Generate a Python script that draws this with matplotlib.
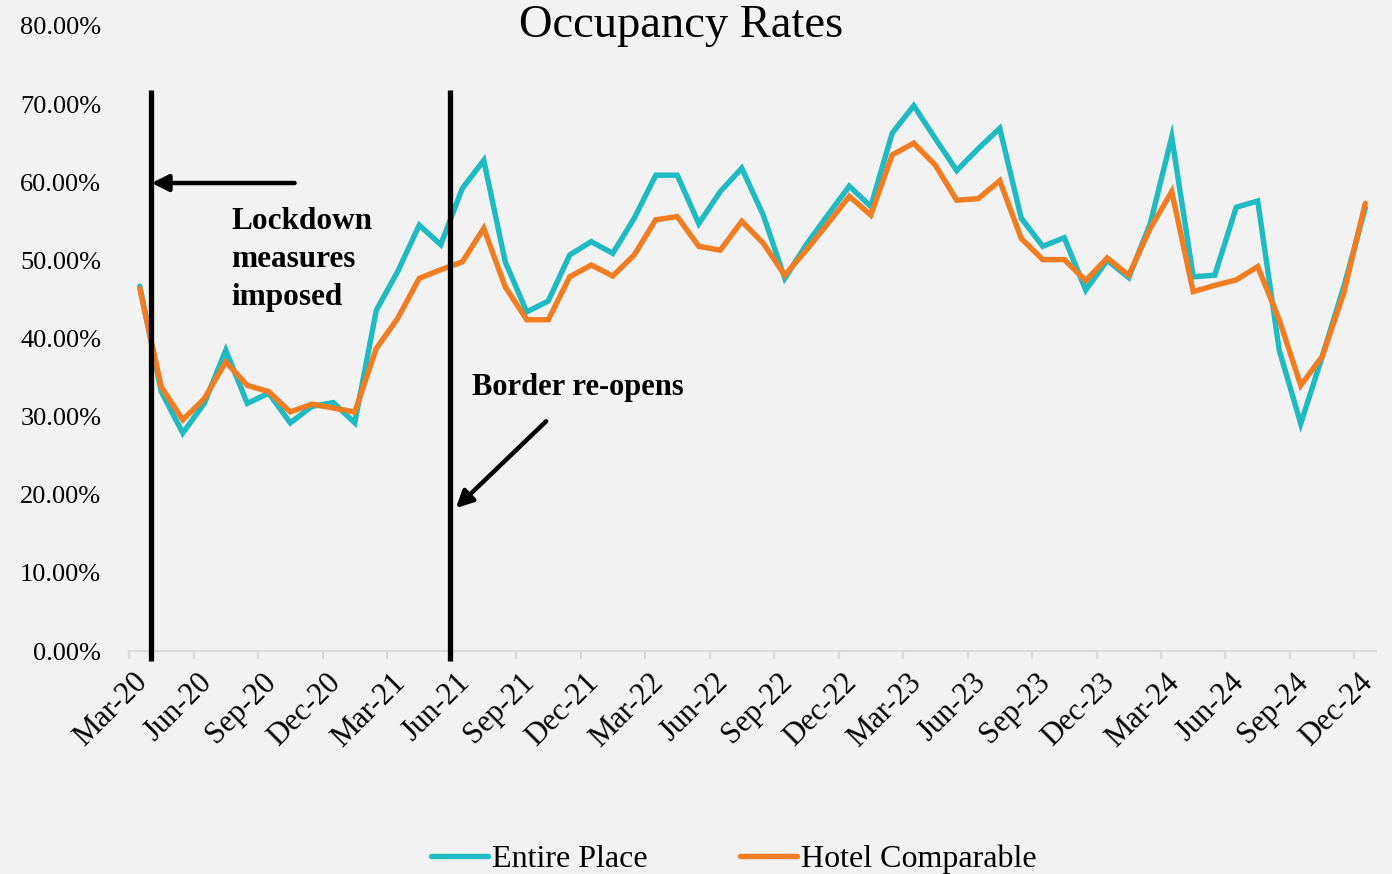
import matplotlib
matplotlib.use("Agg")
import matplotlib.pyplot as plt
import matplotlib.transforms as mtransforms
import numpy as np

# ---- data ----
tick_labels = ['Mar-20', 'Jun-20', 'Sep-20', 'Dec-20',
               'Mar-21', 'Jun-21', 'Sep-21', 'Dec-21',
               'Mar-22', 'Jun-22', 'Sep-22', 'Dec-22',
               'Mar-23', 'Jun-23', 'Sep-23', 'Dec-23',
               'Mar-24', 'Jun-24', 'Sep-24', 'Dec-24']

entire_place = [46.7, 33.2, 27.9, 31.7, 38.5, 31.7, 33.0, 29.2, 31.3, 31.8,
                29.2, 43.6, 48.6, 54.5, 52.0, 59.2, 62.8, 49.8, 43.4, 44.8,
                50.7, 52.4, 50.9, 55.4, 60.9, 60.9, 54.7, 58.8, 61.8, 55.8,
                47.7, 52.0, 55.8, 59.5, 56.9, 66.3, 69.8, 65.6, 61.5, 64.3,
                66.9, 55.4, 51.8, 52.9, 46.2, 50.0, 47.8, 54.7, 65.8, 47.9,
                48.1, 56.8, 57.6, 38.5, 29.1, 37.7, 46.6, 56.7]

hotel_comparable = [46.4, 33.8, 29.6, 32.3, 37.0, 34.0, 33.2, 30.6, 31.6, 31.1,
                    30.6, 38.7, 42.6, 47.7, 48.8, 49.8, 54.1, 46.6, 42.4, 42.4,
                    47.9, 49.4, 48.0, 50.7, 55.2, 55.6, 51.8, 51.3, 55.0, 52.2,
                    48.1, 51.3, 54.7, 58.2, 55.8, 63.5, 65.0, 62.2, 57.7, 57.9,
                    60.2, 52.8, 50.1, 50.1, 47.4, 50.3, 48.1, 54.1, 58.8, 46.0,
                    46.8, 47.5, 49.2, 42.4, 34.0, 37.7, 45.8, 57.3]

yticks = [0, 10, 20, 30, 40, 50, 60, 70, 80]

# ---- style ----
BG = '#F2F2F2'
TEAL = '#1FBAC2'
ORANGE = '#F07D22'
FONT = 'Liberation Serif'
plt.rcParams['font.family'] = [FONT, 'DejaVu Serif']

fig = plt.figure(figsize=(13.92, 8.74), dpi=100, facecolor=BG)
ax = fig.add_axes([0.0927, 0.2551, 0.8958, 0.7152])
ax.set_facecolor(BG)

x = np.arange(len(entire_place))
l1, = ax.plot(x, entire_place, color=TEAL, lw=3.9, solid_joinstyle='miter',
              solid_capstyle='round', label='Entire Place', zorder=3)
l2, = ax.plot(x, hotel_comparable, color=ORANGE, lw=3.9, solid_joinstyle='miter',
              solid_capstyle='round', label='Hotel Comparable', zorder=4)

ax.set_xlim(-0.5, len(x) - 0.5)
ax.set_ylim(0, 80)

# axes styling
for s in ['top', 'right', 'left']:
    ax.spines[s].set_visible(False)
ax.spines['bottom'].set_color('#D9D9D9')
ax.spines['bottom'].set_linewidth(1.5)

ax.set_yticks(yticks)
ax.set_yticklabels([f'{v:.2f}%' for v in yticks], fontsize=19)
ax.tick_params(axis='y', length=0, pad=20)

ax.set_xticks(np.arange(0, len(x), 3))
ax.set_xticklabels(tick_labels, fontsize=22, rotation=45, ha='right',
                   va='top', rotation_mode='anchor')
ax.set_xticks(np.arange(-0.5, len(x), 3), minor=True)
ax.tick_params(axis='x', which='major', length=0, pad=12)
ax.tick_params(axis='x', which='minor', length=6, width=1.5, color='#D9D9D9',
               direction='out')
shift = mtransforms.ScaledTranslation(-7 / 100, 0, fig.dpi_scale_trans)
for lab in ax.get_xticklabels():
    lab.set_transform(lab.get_transform() + shift)

# title
fig.text(0.489, 0.970, 'Occupancy Rates', ha='center', va='center',
         fontsize=33.5, color='black')

# event lines
for xv in [0.5, 14.45]:
    ax.plot([xv, xv], [71.8, -1.3], color='black', lw=3.8, clip_on=False,
            zorder=5, solid_capstyle='butt')

# annotations
ax.annotate('', xy=(0.55, 59.9), xytext=(7.2, 59.9),
            arrowprops=dict(arrowstyle='-|>,head_length=1.0,head_width=0.5',
                            color='black', lw=3.2, shrinkA=0, shrinkB=0),
            zorder=6)
ax.text(4.27, 50.1, 'Lockdown\nmeasures\nimposed', ha='left', va='center',
        fontsize=22.5, fontweight='bold', linespacing=1.4, color='black')

ax.annotate('', xy=(14.7, 18.3), xytext=(18.9, 29.4),
            arrowprops=dict(arrowstyle='-|>,head_length=1.0,head_width=0.5',
                            color='black', lw=3.2, shrinkA=0, shrinkB=0),
            zorder=6)
ax.text(15.45, 33.7, 'Border re-opens', ha='left', va='center',
        fontsize=22, fontweight='bold', color='black')

# legend
fig.legend(handles=[l1, l2], loc='center', bbox_to_anchor=(0.527, 0.017),
           ncol=2, frameon=False, fontsize=23, handlelength=1.8,
           handletextpad=0.1, columnspacing=2.9, borderpad=0)

fig.savefig('out.png', dpi=100, facecolor=BG)
